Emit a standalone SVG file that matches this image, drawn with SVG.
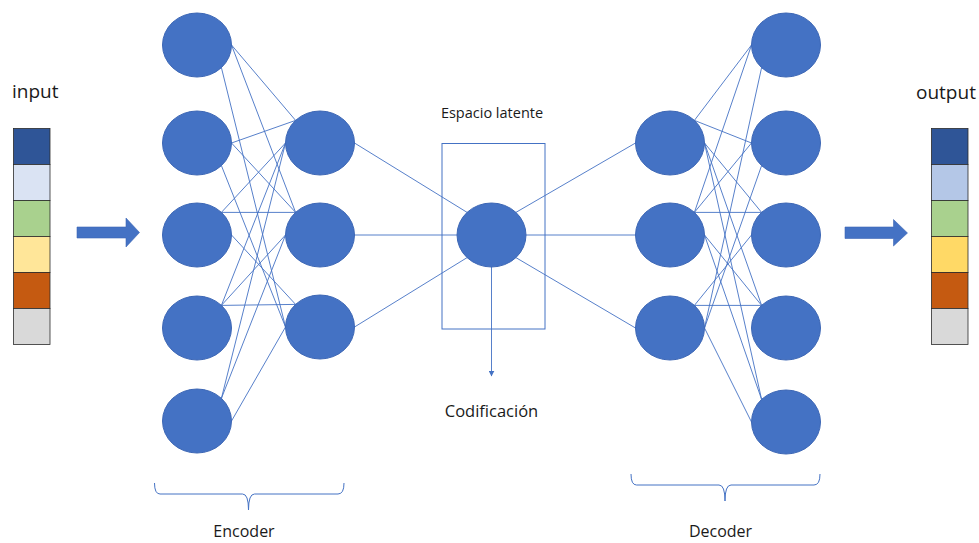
<svg xmlns="http://www.w3.org/2000/svg" width="979" height="543" viewBox="0 0 979 543">
  <style>
    .node { fill: #4472C4; stroke: #3D67B5; stroke-width: 1; }
    .link { stroke: #4472C4; stroke-width: 0.9; fill: none; }
    .brace { stroke: #4472C4; stroke-width: 1; fill: none; }
    .cell { stroke: #2B2B2B; stroke-width: 0.8; }
    .txt { font-family: "Open Sans", "Liberation Sans", sans-serif; fill: #1A1A1A; }
    .blockarrow { fill: #4472C4; stroke: #3D67B5; stroke-width: 0.6; }
  </style>
  <defs>
    <marker id="tip" viewBox="0 0 10 10" refX="9" refY="5" markerWidth="6" markerHeight="6" markerUnits="userSpaceOnUse" orient="auto">
      <path d="M0,0 L10,5 L0,10 Z" fill="#4472C4"/>
    </marker>
  </defs>
  <rect width="979" height="543" fill="#FFFFFF"/>

  <!-- input vector -->
  <g id="input">
    <text class="txt" x="12" y="98" font-size="19">input</text>
    <rect class="cell" x="13.5" y="128.5" width="36.5" height="36" fill="#2F5597"/>
    <rect class="cell" x="13.5" y="164.5" width="36.5" height="36" fill="#DAE3F3"/>
    <rect class="cell" x="13.5" y="200.5" width="36.5" height="36" fill="#A9D18E"/>
    <rect class="cell" x="13.5" y="236.5" width="36.5" height="36" fill="#FFE699"/>
    <rect class="cell" x="13.5" y="272.5" width="36.5" height="36" fill="#C55A11"/>
    <rect class="cell" x="13.5" y="308.5" width="36.5" height="36" fill="#D9D9D9"/>
  </g>
  <g id="arrow-in">
    <path class="blockarrow" d="M77,227 H126 V218 L139.5,232.5 L126,247 V238 H77 Z"/>
  </g>

  <!-- output vector -->
  <g id="output">
    <text class="txt" x="916" y="99" font-size="19">output</text>
    <rect class="cell" x="931.5" y="128.5" width="36.5" height="36" fill="#2F5597"/>
    <rect class="cell" x="931.5" y="164.5" width="36.5" height="36" fill="#B4C7E7"/>
    <rect class="cell" x="931.5" y="200.5" width="36.5" height="36" fill="#A9D18E"/>
    <rect class="cell" x="931.5" y="236.5" width="36.5" height="36" fill="#FFD966"/>
    <rect class="cell" x="931.5" y="272.5" width="36.5" height="36" fill="#C55A11"/>
    <rect class="cell" x="931.5" y="308.5" width="36.5" height="36" fill="#D9D9D9"/>
  </g>
  <g id="arrow-out">
    <path class="blockarrow" d="M845,227 H893.5 V219.5 L907.5,233 L893.5,246 V238.5 H845 Z"/>
  </g>

  <!-- latent space frame -->
  <g id="latent-frame">
    <rect x="442" y="143.5" width="103" height="185.5" fill="none" stroke="#4472C4" stroke-width="1"/>
    <text class="txt" x="492" y="118" font-size="14.5" text-anchor="middle">Espacio latente</text>
  </g>

  <!-- connectors -->
  <g id="connectors">
    <!-- encoder: layer 1 -> layer 2 -->
    <line class="link" x1="231.5" y1="45" x2="295.6" y2="120.4"/>
    <line class="link" x1="231.5" y1="45" x2="295.6" y2="212.4"/>
    <line class="link" x1="221.4" y1="67.6" x2="285.5" y2="327"/>
    <line class="link" x1="231.5" y1="143" x2="295.6" y2="120.4"/>
    <line class="link" x1="231.5" y1="143" x2="295.6" y2="212.4"/>
    <line class="link" x1="221.4" y1="165.6" x2="285.5" y2="327"/>
    <line class="link" x1="221.4" y1="212.4" x2="285.5" y2="143"/>
    <line class="link" x1="221.4" y1="212.4" x2="295.6" y2="212.4"/>
    <line class="link" x1="231.5" y1="235" x2="295.6" y2="304.4"/>
    <line class="link" x1="221.4" y1="305.4" x2="285.5" y2="143"/>
    <line class="link" x1="221.4" y1="305.4" x2="285.5" y2="235"/>
    <line class="link" x1="221.4" y1="305.4" x2="295.6" y2="304.4"/>
    <line class="link" x1="221.4" y1="398.4" x2="285.5" y2="143"/>
    <line class="link" x1="221.4" y1="398.4" x2="285.5" y2="235"/>
    <line class="link" x1="231.5" y1="421" x2="285.5" y2="327"/>
    <!-- encoder layer 2 -> latent -->
    <line class="link" x1="354.5" y1="143" x2="467.1" y2="212.4"/>
    <line class="link" x1="354.5" y1="235" x2="457" y2="235"/>
    <line class="link" x1="354.5" y1="327" x2="467.1" y2="257.6"/>
    <!-- latent -> decoder layer 1 -->
    <line class="link" x1="515.9" y1="212.4" x2="635.5" y2="143"/>
    <line class="link" x1="526" y1="235" x2="635.5" y2="235"/>
    <line class="link" x1="515.9" y1="257.6" x2="635.5" y2="328"/>
    <!-- decoder: layer 2 -> layer 1 -->
    <line class="link" x1="751.5" y1="45" x2="694.4" y2="120.4"/>
    <line class="link" x1="751.5" y1="45" x2="694.4" y2="212.4"/>
    <line class="link" x1="761.6" y1="67.6" x2="704.5" y2="328"/>
    <line class="link" x1="751.5" y1="143" x2="694.4" y2="120.4"/>
    <line class="link" x1="751.5" y1="143" x2="694.4" y2="212.4"/>
    <line class="link" x1="761.6" y1="165.6" x2="704.5" y2="328"/>
    <line class="link" x1="761.6" y1="212.4" x2="704.5" y2="143"/>
    <line class="link" x1="761.6" y1="212.4" x2="694.4" y2="212.4"/>
    <line class="link" x1="751.5" y1="235" x2="694.4" y2="305.4"/>
    <line class="link" x1="761.6" y1="305.4" x2="704.5" y2="143"/>
    <line class="link" x1="761.6" y1="305.4" x2="704.5" y2="235"/>
    <line class="link" x1="761.6" y1="305.4" x2="694.4" y2="305.4"/>
    <line class="link" x1="761.6" y1="399.4" x2="704.5" y2="143"/>
    <line class="link" x1="761.6" y1="399.4" x2="704.5" y2="235"/>
    <line class="link" x1="751.5" y1="422" x2="704.5" y2="328"/>
    <!-- code output -->
    <line class="link" x1="491.5" y1="267" x2="491.5" y2="376" marker-end="url(#tip)"/>
  </g>

  <!-- encoder input layer -->
  <g id="enc-1-1"><ellipse class="node" cx="197" cy="45" rx="34.5" ry="32"/></g>
  <g id="enc-1-2"><ellipse class="node" cx="197" cy="143" rx="34.5" ry="32"/></g>
  <g id="enc-1-3"><ellipse class="node" cx="197" cy="235" rx="34.5" ry="32"/></g>
  <g id="enc-1-4"><ellipse class="node" cx="197" cy="328" rx="34.5" ry="32"/></g>
  <g id="enc-1-5"><ellipse class="node" cx="197" cy="421" rx="34.5" ry="32"/></g>

  <!-- encoder hidden layer -->
  <g id="enc-2-1"><ellipse class="node" cx="320" cy="143" rx="34.5" ry="32"/></g>
  <g id="enc-2-2"><ellipse class="node" cx="320" cy="235" rx="34.5" ry="32"/></g>
  <g id="enc-2-3"><ellipse class="node" cx="320" cy="327" rx="34.5" ry="32"/></g>

  <!-- latent code -->
  <g id="latent"><ellipse class="node" cx="491.5" cy="235" rx="34.5" ry="32"/></g>

  <!-- decoder hidden layer -->
  <g id="dec-1-1"><ellipse class="node" cx="670" cy="143" rx="34.5" ry="32"/></g>
  <g id="dec-1-2"><ellipse class="node" cx="670" cy="235" rx="34.5" ry="32"/></g>
  <g id="dec-1-3"><ellipse class="node" cx="670" cy="328" rx="34.5" ry="32"/></g>

  <!-- decoder output layer -->
  <g id="dec-2-1"><ellipse class="node" cx="786" cy="45" rx="34.5" ry="32"/></g>
  <g id="dec-2-2"><ellipse class="node" cx="786" cy="143" rx="34.5" ry="32"/></g>
  <g id="dec-2-3"><ellipse class="node" cx="786" cy="235" rx="34.5" ry="32"/></g>
  <g id="dec-2-4"><ellipse class="node" cx="786" cy="328" rx="34.5" ry="32"/></g>
  <g id="dec-2-5"><ellipse class="node" cx="786" cy="422" rx="34.5" ry="32"/></g>

  <g id="code-label">
    <text class="txt" x="491.5" y="416.5" font-size="16.5" text-anchor="middle">Codificación</text>
  </g>

  <!-- braces and section labels -->
  <g id="encoder-brace">
    <path class="brace" d="M154.5,483 Q154.5,494 160,494 H242.5 Q248.5,494 248.5,510 Q248.5,494 254.5,494 H338 Q344,494 344,483"/>
    <text class="txt" x="244" y="537" font-size="16" text-anchor="middle">Encoder</text>
  </g>
  <g id="decoder-brace">
    <path class="brace" d="M631,474 Q631,485 636.5,485 H719 Q725,485 725,501 Q725,485 731,485 H814 Q820,485 820,474"/>
    <text class="txt" x="720.5" y="537" font-size="16" text-anchor="middle">Decoder</text>
  </g>
</svg>
